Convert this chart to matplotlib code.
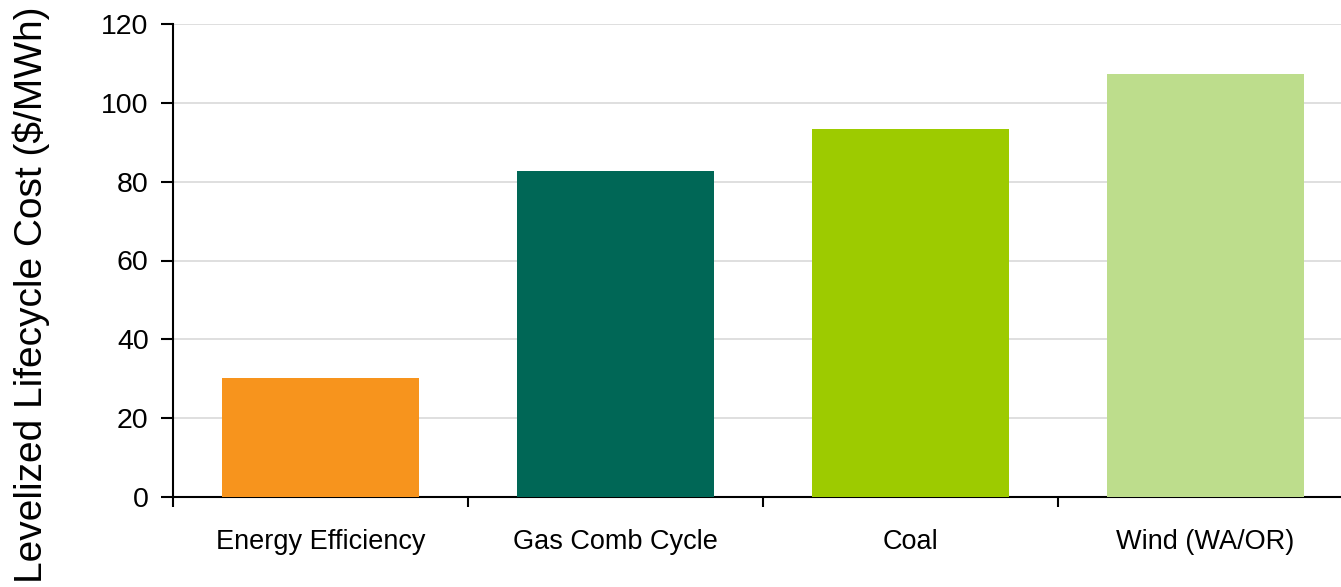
import numpy as np
import matplotlib
matplotlib.use("Agg")
import matplotlib.pyplot as plt

plt.rcParams["font.family"] = ["Liberation Sans", "DejaVu Sans"]

categories = ["Energy Efficiency", "Gas Comb Cycle", "Coal", "Wind (WA/OR)"]
costs = [30.3, 82.7, 93.3, 107.3]
colors = ["#F7941D", "#006756", "#9DCB00", "#BDDD8C"]

fig = plt.figure(figsize=(13.41, 5.87), dpi=100)
# axes run past the right edge, as in the reference crop
ax = fig.add_axes([173 / 1341, 90 / 587, 1180 / 1341, 473 / 587])

x = np.arange(len(categories))
ax.bar(x, costs, width=0.67, color=colors, zorder=3)

ax.set_xlim(-0.5, len(categories) - 0.5)
ax.set_ylim(0, 120)
ax.set_yticks(np.arange(0, 121, 20))
ax.yaxis.grid(True, color="#D9D9D9", linewidth=1.2, zorder=0)

ax.set_xticks(x)
ax.set_xticklabels(categories, fontsize=19.5)
ax.set_xticks(np.arange(-0.5, len(categories), 1.0), minor=True)
ax.tick_params(axis="x", which="major", length=0, pad=23)
ax.tick_params(axis="x", which="minor", length=7, width=1.5, direction="out")
ax.tick_params(axis="y", labelsize=20.5, length=8.5, width=1.5, pad=9)

for side in ["top", "right"]:
    ax.spines[side].set_visible(False)
for side in ["left", "bottom"]:
    ax.spines[side].set_linewidth(1.5)

fig.text(31 / 1341, 4 / 587, "Levelized Lifecycle Cost ($/MWh)", fontsize=28,
         rotation=90, ha="center", va="bottom")

fig.savefig("out.png", dpi=100)
